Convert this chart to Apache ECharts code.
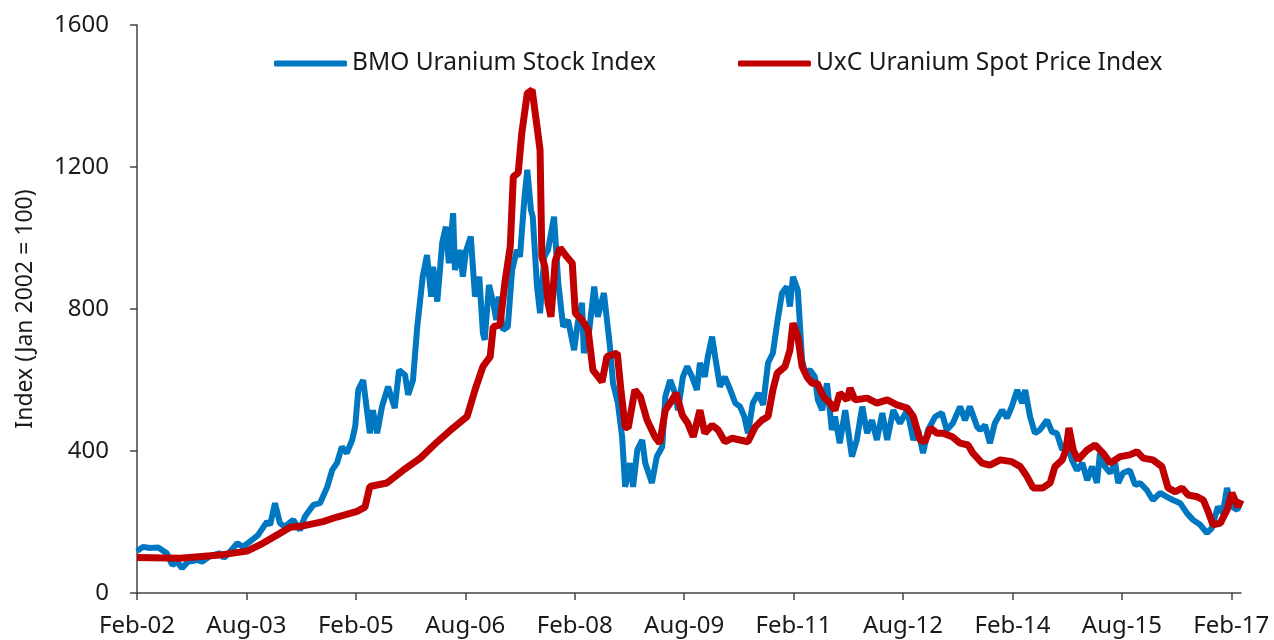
<!doctype html>
<html>
	<head>
		<meta charset="utf-8">
		<title>Uranium indices (ECharts)</title>
		<script src="https://cdn.jsdelivr.net/npm/echarts@6/dist/echarts.min.js"></script>
		<style>
			html, body { margin: 0; padding: 0; background: #fff; }
		</style>
	</head>
	<body>
		<div id="chart" style="width: 1274px; height: 640px;"></div>
		<script>
			// x = months counted from Jan 2002 (Feb-02 = 1)
			const xTickMonths = [1, 19, 37, 55, 73, 91, 109, 127, 145, 163, 181];
			const xTickLabels = ["Feb-02", "Aug-03", "Feb-05", "Aug-06", "Feb-08", "Aug-09", "Feb-11", "Aug-12", "Feb-14", "Aug-15", "Feb-17"];

			const bmoMonth = [
				1.0, 2.0, 3.1, 4.5, 5.9, 6.8, 7.6, 8.4, 9.4, 10.9, 11.7, 13.0, 14.7, 15.3, 16.3, 17.5, 18.4, 19.6, 20.9, 22.4,
				22.9, 23.7, 24.5, 25.3, 26.7, 27.8, 28.6, 30.0, 31.1, 32.3, 33.1, 33.9, 34.7, 35.5, 36.4, 36.9, 37.4, 38.2, 39.3, 39.8,
				40.5, 41.3, 42.3, 43.4, 44.1, 45.1, 45.6, 46.4, 47.1, 48.0, 48.7, 49.4, 49.7, 50.4, 51.2, 51.8, 52.3, 53.0, 53.3, 54.1,
				54.6, 55.1, 55.9, 56.6, 57.3, 57.9, 58.2, 58.9, 59.6, 60.1, 60.5, 61.2, 62.0, 62.7, 63.5, 64.0, 64.7, 65.2, 65.8, 66.1,
				66.8, 67.3, 68.0, 68.6, 69.6, 70.3, 71.1, 71.9, 72.9, 73.5, 74.2, 74.5, 75.4, 76.2, 76.8, 77.8, 78.8, 79.3, 80.1, 80.8,
				81.3, 82.1, 82.6, 83.3, 84.1, 84.6, 85.7, 86.5, 87.4, 87.9, 88.7, 89.5, 90.0, 90.8, 91.5, 92.3, 93.1, 93.6, 94.4, 94.9,
				95.6, 96.1, 96.9, 97.7, 98.6, 99.4, 100.2, 100.9, 101.5, 102.3, 103.2, 104.0, 104.8, 105.6, 106.3, 107.1, 107.9, 108.4, 108.9, 109.7,
				110.4, 110.9, 111.7, 112.5, 113.0, 113.7, 114.5, 115.3, 115.8, 116.6, 117.5, 118.6, 119.4, 120.3, 121.1, 121.9, 122.7, 123.6, 124.4, 125.4,
				126.5, 127.7, 128.7, 129.5, 130.3, 131.1, 132.3, 133.4, 134.2, 135.2, 136.4, 137.2, 138.0, 139.2, 139.7, 140.5, 141.3, 142.1, 143.3, 144.1,
				144.9, 145.8, 146.6, 147.1, 147.9, 148.7, 149.5, 150.7, 151.5, 152.3, 153.2, 154.0, 154.8, 155.6, 156.5, 157.3, 158.1, 158.9, 159.4, 160.2,
				161.1, 161.9, 162.4, 163.2, 164.3, 165.2, 166.0, 167.1, 168.1, 169.3, 170.4, 171.4, 172.6, 173.7, 174.7, 175.9, 177.0, 177.8, 178.8, 179.6,
				180.3, 181.1, 182.0, 182.4
			];
			const bmoIndex = [
				118, 130, 127, 128, 112, 79, 88, 70, 88, 93, 88, 104, 112, 99, 116, 140, 130, 145, 163, 201,
				192, 253, 197, 187, 206, 177, 215, 248, 253, 299, 346, 366, 412, 394, 431, 470, 572, 600, 450, 515,
				450, 525, 581, 521, 628, 614, 558, 600, 750, 891, 952, 835, 919, 821, 986, 1032, 929, 1070, 910, 966,
				891, 962, 1004, 835, 891, 732, 713, 868, 817, 769, 835, 741, 750, 910, 966, 947, 1107, 1192, 1079, 1060,
				863, 788, 947, 966, 1060, 873, 750, 769, 684, 760, 817, 676, 741, 863, 778, 845, 694, 591, 535, 440,
				299, 366, 299, 403, 431, 366, 310, 384, 412, 553, 600, 563, 515, 609, 638, 609, 572, 648, 609, 666,
				722, 666, 581, 609, 572, 535, 525, 497, 450, 535, 563, 530, 648, 676, 760, 845, 863, 807, 891, 853,
				656, 619, 628, 609, 544, 515, 591, 459, 497, 422, 515, 384, 431, 525, 450, 487, 431, 507, 431, 515,
				478, 515, 431, 459, 394, 459, 497, 507, 459, 478, 525, 487, 525, 468, 459, 473, 422, 478, 515, 493,
				525, 572, 535, 572, 497, 450, 459, 487, 454, 450, 403, 422, 375, 346, 366, 318, 356, 310, 394, 356,
				338, 366, 310, 338, 346, 304, 310, 290, 262, 282, 271, 262, 253, 225, 206, 192, 169, 183, 243, 225,
				296, 243, 234, 253
			];

			const uxcMonth = [
				1.0, 8.1, 15.1, 19.1, 21.7, 24.0, 26.2, 28.3, 31.6, 33.9, 37.2, 38.5, 39.3, 42.1, 44.8, 47.6, 50.4, 53.0, 55.3, 56.6,
				57.9, 59.1, 59.6, 60.7, 61.5, 62.4, 62.9, 63.7, 64.3, 65.2, 66.0, 66.8, 67.3, 67.6, 68.1, 68.6, 69.1, 69.8, 70.6, 71.7,
				72.6, 73.1, 74.2, 75.2, 76.0, 77.5, 78.3, 80.0, 80.6, 81.3, 81.8, 82.9, 83.8, 84.9, 86.2, 87.0, 87.9, 88.7, 89.7, 90.7,
				91.6, 92.5, 93.6, 94.4, 95.6, 96.6, 97.7, 98.9, 100.2, 101.5, 102.7, 103.8, 104.8, 105.6, 106.3, 107.6, 108.4, 108.9, 109.7, 110.4,
				111.2, 112.0, 112.9, 113.9, 115.0, 115.8, 116.6, 117.8, 118.3, 119.1, 121.1, 122.7, 124.4, 126.0, 127.7, 128.7, 129.8, 130.6, 131.5, 132.6,
				133.6, 135.1, 136.4, 137.7, 138.5, 140.0, 141.3, 143.0, 144.9, 146.3, 147.4, 148.4, 150.0, 151.2, 152.0, 153.2, 153.8, 154.3, 155.0, 155.8,
				157.3, 158.6, 159.9, 161.1, 162.7, 164.3, 165.5, 166.5, 168.1, 169.6, 170.6, 171.8, 172.9, 173.9, 175.4, 176.4, 177.2, 178.0, 179.2, 180.3,
				181.1, 181.6, 182.1, 182.6
			];
			const uxcIndex = [
				100, 98, 108, 118, 140, 163, 185, 189, 201, 214, 230, 242, 300, 310, 346, 380, 426, 465, 497, 572,
				638, 666, 750, 755, 873, 976, 1173, 1183, 1296, 1408, 1417, 1314, 1248, 947, 919, 817, 778, 935, 972, 947,
				929, 788, 769, 741, 628, 595, 666, 676, 572, 468, 465, 572, 553, 487, 440, 422, 515, 535, 563, 501,
				478, 440, 515, 450, 473, 459, 426, 436, 431, 426, 468, 487, 497, 572, 619, 638, 684, 760, 722, 638,
				609, 591, 591, 553, 535, 515, 563, 544, 577, 544, 549, 535, 544, 530, 521, 497, 431, 426, 465, 450,
				450, 440, 422, 417, 394, 366, 360, 375, 370, 356, 328, 296, 296, 310, 356, 375, 403, 465, 403, 375,
				403, 417, 394, 366, 384, 389, 398, 380, 375, 356, 296, 285, 296, 276, 271, 262, 229, 192, 197, 234,
				282, 262, 243, 262
			];

			const zip = (xs, ys) => xs.map((x, i) => [x, ys[i]]);

			let myChart = echarts.init(document.getElementById("chart"), null, {
				width: 1274,
				height: 640
			});

			const textFont = "Noto Sans";

			let opts = {
				animation: false,
				backgroundColor: "#fff",
				textStyle: { fontFamily: textFont },
				legend: {
					left: 269,
					top: 46,
					icon: "roundRect",
					itemWidth: 73,
					itemHeight: 6,
					itemGap: 82,
					textStyle: { fontSize: 24.5, color: "#1a1a1a", fontFamily: textFont },
					data: ["BMO Uranium Stock Index", "UxC Uranium Spot Price Index"]
				},
				grid: {
					left: 137,
					right: 33,
					top: 25,
					bottom: 47
				},
				xAxis: {
					type: "value",
					min: 1,
					max: 182.6,
					splitLine: { show: false },
					axisLine: { lineStyle: { color: "#444", width: 1.5 } },
					axisTick: { show: true, length: 7, lineStyle: { color: "#444", width: 1.5 }, customValues: xTickMonths },
					axisLabel: {
						customValues: xTickMonths,
						margin: 21,
						fontSize: 24,
						color: "#1a1a1a",
						formatter: v => {
							const i = xTickMonths.indexOf(Math.round(v));
							return i >= 0 ? xTickLabels[i] : "";
						}
					}
				},
				yAxis: {
					type: "value",
					min: 0,
					max: 1600,
					interval: 400,
					name: "Index (Jan 2002 = 100)",
					nameLocation: "middle",
					nameGap: 100,
					nameTextStyle: { fontSize: 23, color: "#1a1a1a" },
					splitLine: { show: false },
					axisLine: { show: true, lineStyle: { color: "#444", width: 1.5 } },
					axisTick: { show: true, length: 7, lineStyle: { color: "#444", width: 1.5 } },
					axisLabel: { margin: 28, fontSize: 24, color: "#1a1a1a", formatter: v => String(v) }
				},
				series: [
					{
						name: "BMO Uranium Stock Index",
						type: "line",
						showSymbol: false,
						symbol: "none",
						lineStyle: { width: 6, color: "#0078c1" },
						itemStyle: { color: "#0078c1" },
						data: zip(bmoMonth, bmoIndex)
					},
					{
						name: "UxC Uranium Spot Price Index",
						type: "line",
						showSymbol: false,
						symbol: "none",
						lineStyle: { width: 7, color: "#c00000" },
						itemStyle: { color: "#c00000" },
						data: zip(uxcMonth, uxcIndex)
					}
				]
			};

			myChart.setOption(opts);
		</script>
	</body>
</html>
